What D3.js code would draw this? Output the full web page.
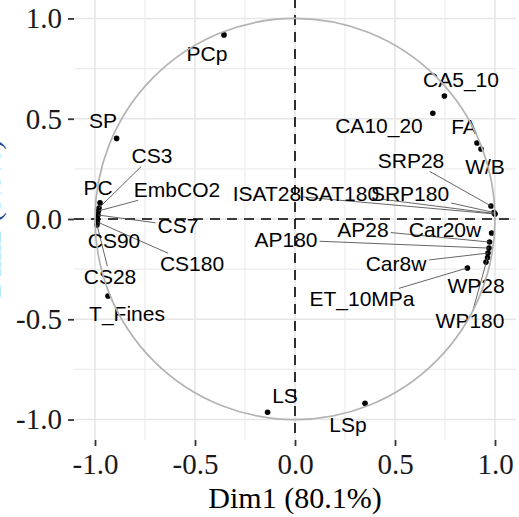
<!DOCTYPE html>
<html>
<head>
<meta charset="utf-8">
<script src="https://cdn.jsdelivr.net/npm/d3@7"></script>
<style>
  html, body { margin: 0; padding: 0; background: #fff; }
  svg { display: block; }
</style>
</head>
<body>
<svg id="chart" width="519" height="517"></svg>
<script>
// Variables of the correlation circle and their coordinates on Dim1 / Dim2
const variables = ["PCp","SP","PC","CS3","EmbCO2","CS7","CS90","CS180","CS28","T_Fines",
  "LS","LSp","CA5_10","CA10_20","FA","W/B","SRP28","ISAT28","ISAT180","SRP180",
  "Car20w","AP28","AP180","Car8w","WP180","WP28","ET_10MPa"];
const dim1 = [-0.355,-0.892,-0.975,-0.980,-0.983,-0.985,-0.988,-0.988,-0.990,-0.935,
  -0.137,0.350,0.747,0.689,0.910,0.930,0.980,1.000,0.998,0.995,
  0.983,0.973,0.970,0.965,0.963,0.955,0.862];
const dim2 = [0.918,0.402,0.081,0.055,0.040,0.020,0.000,-0.015,-0.030,-0.384,
  -0.964,-0.919,0.613,0.527,0.379,0.349,0.065,0.025,0.027,0.032,
  -0.070,-0.115,-0.145,-0.170,-0.192,-0.215,-0.244];

// Repelled label anchors (text centres), in the same units as the axes
const labelDim1 = [-0.440,-0.960,-0.985,-0.715,-0.590,-0.585,-0.905,-0.515,-0.925,-0.840,
  -0.050,0.265,0.830,0.420,0.845,0.950,0.580,-0.140,0.220,0.575,
  0.750,0.340,-0.045,0.505,0.875,0.905,0.335];
const labelDim2 = [0.823,0.489,0.155,0.314,0.145,-0.035,-0.110,-0.224,-0.289,-0.474,
  -0.883,-1.027,0.693,0.464,0.459,0.259,0.289,0.125,0.125,0.125,
  -0.055,-0.055,-0.105,-0.224,-0.509,-0.334,-0.399];

const tickValues = [-1, -0.5, 0, 0.5, 1];
const tickLabels = ["-1.0", "-0.5", "0.0", "0.5", "1.0"];
const xTitle = "Dim1 (80.1%)";
const yTitle = "Dim2 (3.8%)";

const svg = d3.select("#chart");
const panel = { left: 74, right: 516, top: -2, bottom: 440 };

const x = d3.scaleLinear().domain([-1.105, 1.105]).range([panel.left, panel.right]);
const y = d3.scaleLinear().domain([-1.102, 1.102]).range([panel.bottom, panel.top]);

// grid
const gridMajor = [-1, -0.5, 0, 0.5, 1];
const gridMinor = [-0.75, -0.25, 0.25, 0.75];
const grid = svg.append("g");
function gridLines(values, width, colour) {
  grid.append("g").selectAll("line").data(values).join("line")
    .attr("x1", d => x(d)).attr("x2", d => x(d)).attr("y1", panel.top).attr("y2", panel.bottom)
    .attr("stroke", colour).attr("stroke-width", width);
  grid.append("g").selectAll("line").data(values).join("line")
    .attr("y1", d => y(d)).attr("y2", d => y(d)).attr("x1", panel.left).attr("x2", panel.right)
    .attr("stroke", colour).attr("stroke-width", width);
}
gridLines(gridMinor, 1.2, "#ececec");
gridLines(gridMajor, 1.6, "#e6e6e6");

// dashed reference axes
svg.append("line").attr("x1", x(0)).attr("x2", x(0)).attr("y1", panel.top).attr("y2", panel.bottom)
  .attr("stroke", "#000").attr("stroke-width", 1.6).attr("stroke-dasharray", "10,7");
svg.append("line").attr("y1", y(0)).attr("y2", y(0)).attr("x1", panel.left).attr("x2", panel.right)
  .attr("stroke", "#000").attr("stroke-width", 1.6).attr("stroke-dasharray", "10,7");

// axes
const fmt = d => tickLabels[tickValues.indexOf(d)];
const xAxis = svg.append("g").attr("transform", `translate(0,${panel.bottom})`)
  .call(d3.axisBottom(x).tickValues(tickValues).tickFormat(fmt).tickSize(6).tickPadding(7));
const yAxis = svg.append("g").attr("transform", `translate(${panel.left},0)`)
  .call(d3.axisLeft(y).tickValues(tickValues).tickFormat(fmt).tickSize(6).tickPadding(6));
[xAxis, yAxis].forEach(g => {
  g.select(".domain").remove();
  g.selectAll(".tick line").attr("stroke", "#333").attr("stroke-width", 1.8);
  g.selectAll(".tick text").attr("fill", "#1a1a1a")
    .style("font-family", "'Liberation Serif', 'Times New Roman', serif").style("font-size", "29px");
});

svg.append("text").attr("x", x(0)).attr("y", 508).attr("text-anchor", "middle")
  .style("font-family", "'Liberation Serif', 'Times New Roman', serif").style("font-size", "30px")
  .attr("fill", "#000").text(xTitle);
svg.append("text").attr("transform", `translate(0,${y(0)}) rotate(-90)`).attr("text-anchor", "middle")
  .style("font-family", "'Liberation Serif', 'Times New Roman', serif").style("font-size", "30px")
  .attr("fill", "#2a4f9a").text(yTitle);

// labels and leader segments
const rows = variables.map((v, i) => ({ v, px: x(dim1[i]), py: y(dim2[i]),
  lx: x(labelDim1[i]), ly: y(labelDim2[i]) }));

const pointG = svg.append("g");
const leaderG = svg.append("g");
const labelG = svg.append("g");
labelG.selectAll("text").data(rows).join("text")
  .attr("x", d => d.lx).attr("y", d => d.ly).attr("dy", "0.35em")
  .attr("text-anchor", "middle")
  .style("font-family", "'Liberation Sans', Arial, sans-serif").style("font-size", "21px")
  .attr("fill", "#000").text(d => d.v)
  .each(function (d) {
    const b = this.getBBox();
    const pad = 2;
    const x0 = b.x - pad, x1 = b.x + b.width + pad, y0 = b.y + 3 - pad, y1 = b.y + b.height - 3 + pad;
    const cx = d.lx, cy = (y0 + y1) / 2;
    const dx = d.px - cx, dy = d.py - cy;
    let t = 1;
    if (dx !== 0) t = Math.min(t, Math.abs((dx > 0 ? x1 - cx : x0 - cx) / dx));
    if (dy !== 0) t = Math.min(t, Math.abs((dy > 0 ? y1 - cy : y0 - cy) / dy));
    d.sx = cx + dx * t; d.sy = cy + dy * t;
    d.len = Math.hypot(d.px - d.sx, d.py - d.sy);
  });

leaderG.selectAll("line").data(rows.filter(d => d.len > 15)).join("line")
  .attr("x1", d => d.sx).attr("y1", d => d.sy).attr("x2", d => d.px).attr("y2", d => d.py)
  .attr("stroke", "#555").attr("stroke-width", 0.9);

// points
pointG.selectAll("circle").data(rows).join("circle")
  .attr("cx", d => d.px).attr("cy", d => d.py).attr("r", 2.8).attr("fill", "#000");

// unit circle, drawn over the points
svg.append("ellipse").attr("cx", x(0)).attr("cy", y(0))
  .attr("rx", x(1) - x(0)).attr("ry", y(0) - y(1))
  .attr("fill", "none").attr("stroke", "#b3b3b3").attr("stroke-width", 1.7);
</script>
</body>
</html>
